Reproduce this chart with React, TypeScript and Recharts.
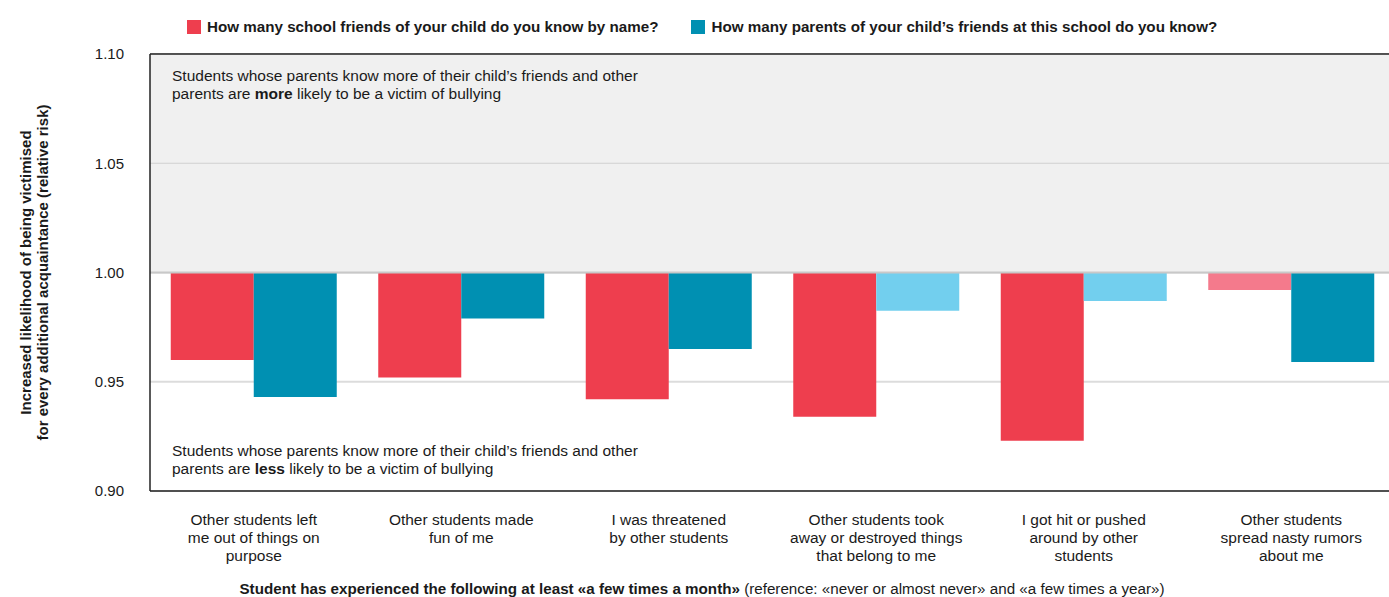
import React from 'react';
import {
    BarChart,
    Bar,
    XAxis,
    YAxis,
    CartesianGrid,
    ReferenceArea,
    ReferenceLine,
    Cell
} from 'recharts';

// categorías (eje X), con saltos de línea como en el original
const categories = [
    'Other students left\nme out of things on\npurpose',
    'Other students made\nfun of me',
    'I was threatened\nby other students',
    'Other students took\naway or destroyed things\nthat belong to me',
    'I got hit or pushed\naround by other\nstudents',
    'Other students\nspread nasty rumors\nabout me',
];

const friendsByName = [0.960, 0.952, 0.942, 0.934, 0.923, 0.992];
const parentsKnown = [0.943, 0.979, 0.965, 0.9825, 0.987, 0.959];

// los tonos claros marcan valores no significativos
const friendsColors = ['#ee3e4e', '#ee3e4e', '#ee3e4e', '#ee3e4e', '#ee3e4e', '#f47a8c'];
const parentsColors = ['#0090b2', '#0090b2', '#0090b2', '#72cfee', '#72cfee', '#0090b2'];

const seriesNames = [
    'How many school friends of your child do you know by name?',
    'How many parents of your child\u2019s friends at this school do you know?',
];
const legendColors = ['#ee3e4e', '#0090b2'];

const yTicks = [0.9, 0.95, 1.0, 1.05, 1.1];

const baseline = 1.0;

const data = categories.map((name, i) => ({
    name,
    friends: [friendsByName[i], baseline],
    parents: [parentsKnown[i], baseline],
}));

const FONT = '"Liberation Sans", Arial, Helvetica, sans-serif';
const TEXT = '#1a1a1a';

const CategoryTick = (props: any) => {
    const { x, y, payload } = props;
    const lines = String(payload.value).split('\n');
    return (
        <text x={x} y={y + 34} textAnchor="middle" fontSize={15.5} fill={TEXT} fontFamily={FONT}>
            {lines.map((l, i) => (
                <tspan key={i} x={x} dy={i === 0 ? 0 : 18}>{l}</tspan>
            ))}
        </text>
    );
};

const YTitle = (props: any) => {
    const vb = props.viewBox || { x: 0, y: 54, width: 150, height: 437 };
    const cy = vb.y + vb.height / 2;
    return (
        <g fontFamily={FONT} fontSize={15} fontWeight="bold" fill={TEXT}>
            <text x={25} y={cy} transform={`rotate(-90 25 ${cy})`} textAnchor="middle" dominantBaseline="central">
                Increased likelihood of being victimised
            </text>
            <text x={42} y={cy} transform={`rotate(-90 42 ${cy})`} textAnchor="middle" dominantBaseline="central">
                for every additional acquaintance (relative risk)
            </text>
        </g>
    );
};

const XTitle = () => (
    <text x={702} y={594} textAnchor="middle" fontSize={15.2} fill={TEXT} fontFamily={FONT}>
        <tspan fontWeight="bold">Student has experienced the following at least «a few times a month»</tspan>
        <tspan> (reference: «never or almost never» and «a few times a year»)</tspan>
    </text>
);

const Note = (props: any) => {
    const { viewBox, word, fromBottom } = props;
    if (!viewBox) return null;
    const x = viewBox.x + 22;
    const y1 = fromBottom ? viewBox.y + viewBox.height - 35 : viewBox.y + 27;
    return (
        <text x={x} y={y1} fontSize={15.5} fill={TEXT} fontFamily={FONT}>
            <tspan x={x}>Students whose parents know more of their child’s friends and other</tspan>
            <tspan x={x} dy={18}>parents are </tspan>
            <tspan fontWeight="bold">{word}</tspan>
            <tspan> likely to be a victim of bullying</tspan>
        </text>
    );
};

const App: React.FC = () => {
    return (
        <div style={{ position: 'absolute', left: 0, top: 0, width: 1389, height: 597, overflow: 'hidden', background: '#fff', fontFamily: FONT }}>
            {/* leyenda */}
            <div style={{ position: 'absolute', left: 187, top: 18, display: 'flex', gap: 33, zIndex: 2 }}>
                {seriesNames.map((n, i) => (
                    <div key={i} style={{ display: 'flex', alignItems: 'center', gap: 6, fontSize: 15.2, fontWeight: 'bold', color: TEXT }}>
                        <span style={{ display: 'inline-block', width: 14, height: 14, background: legendColors[i] }} />
                        <span>{n}</span>
                    </div>
                ))}
            </div>
            <BarChart
                width={1395}
                height={597}
                data={data}
                margin={{ top: 54, right: 0, left: 0, bottom: 0 }}
                barCategoryGap="10%"
                barGap={0}
                style={{ fontFamily: FONT }}
            >
                <ReferenceArea y1={1.0} y2={1.1} fill="#f0f0f0" fillOpacity={1} stroke="none" ifOverflow="hidden"
                               label={<Note word="more" />} />
                <ReferenceArea y1={0.9} y2={0.95} fill="none" fillOpacity={0} stroke="none"
                               label={<Note word="less" fromBottom />} />
                <CartesianGrid vertical={false} stroke="#dcdcdc" strokeWidth={2} />
                <ReferenceLine y={1.05} stroke="#d0d0d0" strokeWidth={1} />
                <ReferenceLine y={1.0} stroke="#c8c8c8" strokeWidth={2} />
                <ReferenceLine y={1.1} stroke="#222" strokeWidth={1.5} />
                <XAxis
                    dataKey="name"
                    interval={0}
                    height={106}
                    tickSize={0}
                    tickMargin={0}
                    tickLine={false}
                    axisLine={{ stroke: '#222', strokeWidth: 1.5 }}
                    tick={<CategoryTick />}
                    label={<XTitle />}
                />
                <YAxis
                    domain={[0.9, 1.1]}
                    ticks={yTicks}
                    allowDataOverflow
                    width={150}
                    tickSize={0}
                    tickMargin={26}
                    tickLine={false}
                    axisLine={{ stroke: '#222', strokeWidth: 1.5 }}
                    tickFormatter={(v: number) => v.toFixed(2)}
                    tick={{ fontSize: 15, fill: TEXT, fontFamily: FONT }}
                    label={<YTitle />}
                />
                <Bar dataKey="friends" name={seriesNames[0]} isAnimationActive={false}>
                    {data.map((_, i) => <Cell key={i} fill={friendsColors[i]} />)}
                </Bar>
                <Bar dataKey="parents" name={seriesNames[1]} isAnimationActive={false}>
                    {data.map((_, i) => <Cell key={i} fill={parentsColors[i]} />)}
                </Bar>
            </BarChart>
        </div>
    );
};

export default App;
